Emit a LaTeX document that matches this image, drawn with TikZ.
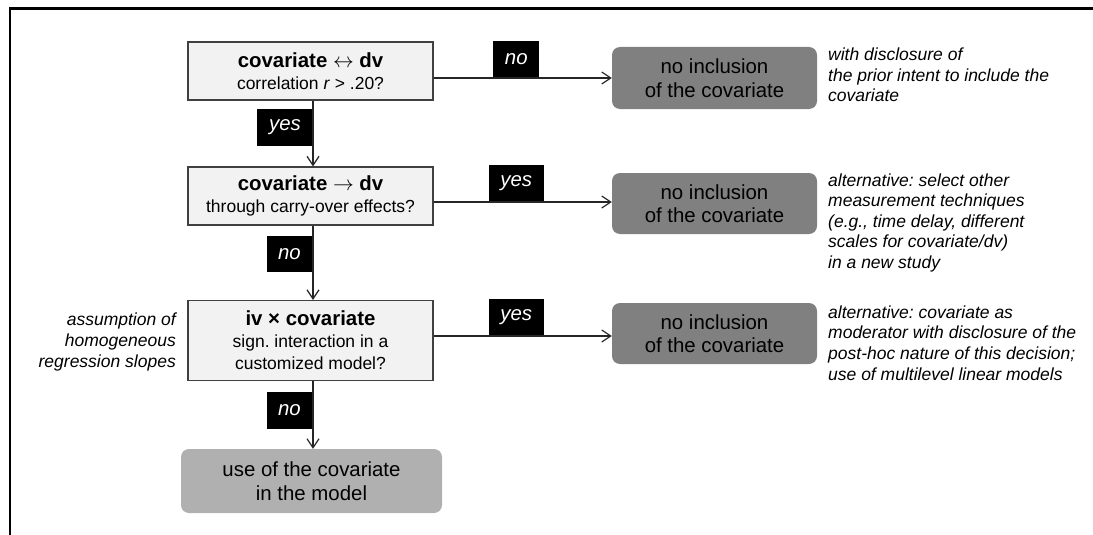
\documentclass[tikz,border=0pt]{standalone}
\usepackage{fontspec}
\setmainfont{Liberation Sans}
\usetikzlibrary{arrows.meta}
\frenchspacing
\definecolor{boxfill}{HTML}{F2F2F2}
\definecolor{boxline}{HTML}{404040}
\definecolor{darkfill}{HTML}{808080}
\definecolor{midfill}{HTML}{B0B0B0}
\tikzset{
  decbox/.style={draw=boxline, fill=boxfill, line width=1.2pt, minimum width=245pt, inner sep=0pt, align=center, font=\fontsize{17.5}{22}\selectfont},
  outbox/.style={fill=darkfill, rounded corners=8pt, minimum width=205pt, minimum height=61pt, inner sep=0pt, align=center, font=\fontsize{20.4}{23.5}\selectfont},
  usebox/.style={fill=midfill, rounded corners=8pt, minimum width=261pt, minimum height=64pt, inner sep=0pt, align=center, font=\fontsize{20.4}{24}\selectfont},
  lab/.style={fill=black, text=white, font=\fontsize{20.4}{24}\selectfont\itshape, minimum height=36.5pt, inner xsep=11.6pt, inner ysep=0pt},
  note/.style={font=\fontsize{17.5}{20.6}\selectfont\itshape, inner sep=0pt},
  arr/.style={-{Straight Barb[length=9pt,width=12pt]}, line width=1.2pt, draw=black!85}
}
\newcommand{\boxtitle}[1]{{\fontsize{20.4}{24}\selectfont\bfseries #1}}
\begin{document}
\frenchspacing
\begin{tikzpicture}[x=1pt,y=-1pt]
\useasboundingbox (0,0) rectangle (1093,535);
\draw[line width=2.5pt] (10,535) -- (10,8.5) -- (1093,8.5);

% decision boxes
\node[decbox, minimum height=58pt] (b1) at (310.5,71) {\boxtitle{covariate $\leftrightarrow$ dv}\\correlation \textit{r} > .20?};
\node[decbox, minimum height=58pt] (b2) at (310.5,196) {\boxtitle{covariate $\rightarrow$ dv}\\through carry-over effects?};
\node[decbox, minimum height=80pt] (b3) at (310.5,340.5) {\boxtitle{iv × covariate}\\sign. interaction in a\\customized model?};

% outcome boxes
\node[outbox, minimum height=62pt] (r1) at (714.5,78) {no inclusion\\of the covariate};
\node[outbox] (r2) at (714.5,203.5) {no inclusion\\of the covariate};
\node[outbox] (r3) at (714.5,333.5) {no inclusion\\of the covariate};
\node[usebox] (u) at (311.5,481) {use of the covariate\\in the model};

% notes (base anchor = baseline of the last line)
\node[note, anchor=base west, align=left] (n1) at (828,102) {with disclosure of\\the prior intent to include the\\covariate};
\node[note, anchor=base west, align=left] (n2) at (828,268.5) {alternative: select other\\measurement techniques\\(e.g., time delay, different\\scales for covariate/dv)\\in a new study};
\node[note, anchor=base west, align=left] (n3) at (828,380) {alternative: covariate as\\moderator with disclosure of the\\post-hoc nature of this decision;\\use of multilevel linear models};
\node[note, anchor=base east, align=right] (n4) at (176,367) {assumption of\\homogeneous\\regression slopes};

% connectors
\draw[arr] ([xshift=2.5pt]b1.south) -- node[lab, pos=0.41, anchor=east] {yes} ([xshift=2.5pt]b2.north);
\draw[arr] ([xshift=2.5pt]b2.south) -- node[lab, pos=0.38, anchor=east] {no} ([xshift=2.5pt]b3.north);
\draw[arr] ([xshift=2.5pt]b3.south) -- node[lab, pos=0.435, anchor=east] {no} ([xshift=1.5pt]u.north);
\draw[arr] (b1.east |- r1.west) -- node[lab, pos=0.464, anchor=south] {no} (r1.west);
\draw[arr] ([yshift=1.5pt]b2.east |- r2.west) -- node[lab, pos=0.464, anchor=south] {yes} ([yshift=1.5pt]r2.west);
\draw[arr] ([yshift=-2.5pt]b3.east |- r3.west) -- node[lab, pos=0.464, anchor=south] {yes} ([yshift=-2.5pt]r3.west);
\end{tikzpicture}
\end{document}
